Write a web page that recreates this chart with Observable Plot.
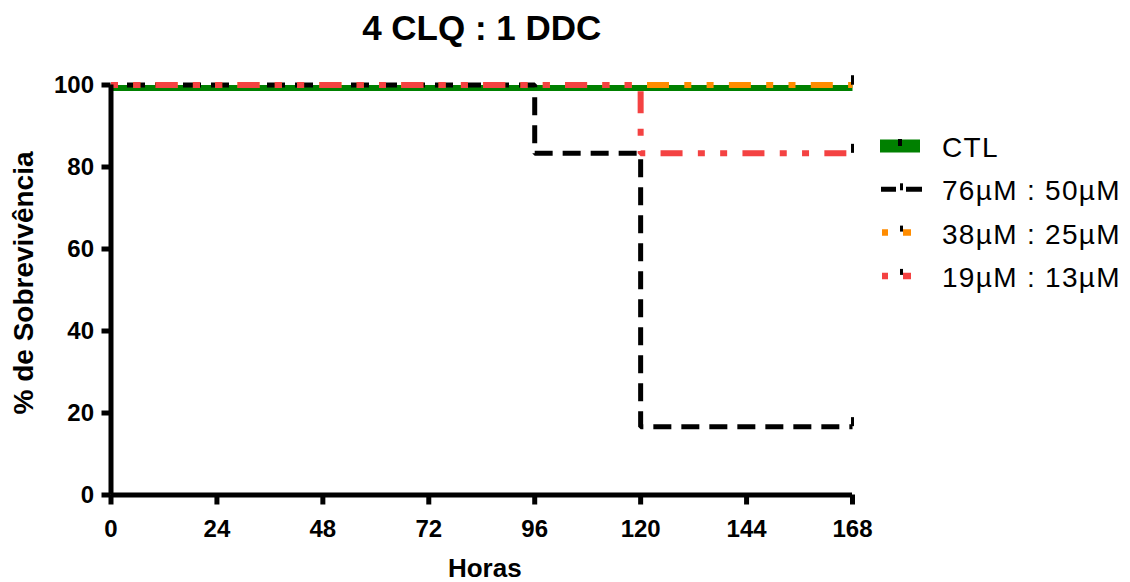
<!DOCTYPE html>
<html>
<head>
<meta charset="utf-8">
<script src="https://cdn.jsdelivr.net/npm/d3@7"></script>
<script src="https://cdn.jsdelivr.net/npm/@observablehq/plot@0.6"></script>
<style>
  body { margin: 0; background: #fff; }
  #chart { position: relative; width: 1130px; height: 582px; font-family: "Liberation Sans", Arial, sans-serif; }
  #chart > svg { position: absolute; left: 0; top: 0; }
</style>
</head>
<body>
<div id="chart"></div>
<script>
// Kaplan–Meier survival, 4 CLQ : 1 DDC
const seriesNames = ["CTL", "76µM : 50µM", "38µM : 25µM", "19µM : 13µM"];
const seriesColors = ["#008000", "#000000", "#ff8c00", "#f44242"];

const ctlHours = [0, 168];
const ctlSurvival = [100, 100];
const highHours = [0, 96, 120, 168];
const highSurvival = [100, 83.33, 16.67, 16.67];
const midHours = [0, 168];
const midSurvival = [100, 100];
const lowHours = [0, 120, 168];
const lowSurvival = [100, 83.33, 83.33];

const xTicks = [0, 24, 48, 72, 96, 120, 144, 168];
const yTicks = [0, 20, 40, 60, 80, 100];

const titleText = "4 CLQ : 1 DDC";
const xLabel = "Horas";
const yLabel = "% de Sobrevivência";

const toRows = (name, hours, surv) => hours.map((h, i) => ({series: name, hour: h, surv: surv[i]}));
const ctl = toRows(seriesNames[0], ctlHours, ctlSurvival);
const high = toRows(seriesNames[1], highHours, highSurvival);
const mid = toRows(seriesNames[2], midHours, midSurvival);
const low = toRows(seriesNames[3], lowHours, lowSurvival);
// censored observations at the end of follow-up
const censored = [ctl, high, mid, low].map(s => s[s.length - 1]);

const dashDot = "7,15.3,7,15.3,22,15.3";
const lineOpts = {x: "hour", y: "surv", curve: "step-after", strokeLinecap: "butt", strokeLinejoin: "miter"};
const font = {fontWeight: "bold"};

const chart = Plot.plot({
  width: 1130,
  height: 582,
  marginLeft: 110.5,
  marginRight: 278,
  marginTop: 84.5,
  marginBottom: 87.5,
  style: {fontFamily: "'Liberation Sans', Arial, sans-serif", color: "#000", background: "transparent"},
  x: {domain: [0, 168]},
  y: {domain: [0, 100]},
  marks: [
    Plot.line(ctl, {...lineOpts, stroke: seriesColors[0], strokeWidth: 6, dy: 3}),
    Plot.line(high, {...lineOpts, stroke: seriesColors[1], strokeWidth: 5, strokeDasharray: "18,10", strokeDashoffset: 12}),
    Plot.line(mid, {...lineOpts, stroke: seriesColors[2], strokeWidth: 6, strokeDasharray: dashDot}),
    Plot.line(low, {...lineOpts, stroke: seriesColors[3], strokeWidth: 6, strokeDasharray: dashDot}),
    Plot.ruleX(censored, {x: "hour", y1: "surv", y2: d => d.surv + 2.2, stroke: "#000", strokeWidth: 3}),
    Plot.ruleX([0], {y1: 0, y2: 100, strokeWidth: 5}),
    Plot.ruleY([0], {x1: 0, x2: 168, strokeWidth: 5}),
    Plot.axisX({ticks: xTicks, tickSize: 10, tickPadding: 15, strokeWidth: 5, fontSize: 24, ...font, label: null, tickFormat: d => String(d)}),
    Plot.axisY({ticks: yTicks, tickSize: 9, tickPadding: 8, strokeWidth: 5, fontSize: 24, ...font, label: null, tickFormat: d => String(d)}),
    Plot.text([titleText], {text: d => d, frameAnchor: "top", lineAnchor: "middle", textAnchor: "middle", dy: -56, fontSize: 35, ...font}),
    Plot.text([xLabel], {text: d => d, frameAnchor: "bottom", lineAnchor: "middle", textAnchor: "middle", dx: 3, dy: 74, fontSize: 26, ...font}),
    Plot.text([yLabel], {text: d => d, frameAnchor: "left", lineAnchor: "middle", textAnchor: "middle", rotate: -90, dx: -86.5, dy: -7, fontSize: 28, ...font})
  ]
});
document.getElementById("chart").appendChild(chart);

// Legend to the right of the plot
const legend = d3.select("#chart").append("svg")
  .attr("width", 1130).attr("height", 582)
  .style("pointer-events", "none");
seriesNames.forEach((name, i) => {
  const cy = 146 + i * 43.3;
  const g = legend.append("g");
  const color = seriesColors[i];
  if (i === 0) {
    g.append("rect").attr("x", 880).attr("y", cy - 6.5).attr("width", 40).attr("height", 13).attr("fill", color);
    g.append("line").attr("x1", 900).attr("x2", 900).attr("y1", cy - 7).attr("y2", cy).attr("stroke", "#000").attr("stroke-width", 4);
  } else if (i === 1) {
    g.append("line").attr("x1", 881).attr("x2", 922).attr("y1", cy).attr("y2", cy)
      .attr("stroke", color).attr("stroke-width", 5).attr("stroke-dasharray", "15,10,16");
    g.append("line").attr("x1", 901.5).attr("x2", 901.5).attr("y1", cy - 6).attr("y2", cy + 1).attr("stroke", "#000").attr("stroke-width", 3);
  } else {
    g.append("line").attr("x1", 882).attr("x2", 911).attr("y1", cy).attr("y2", cy)
      .attr("stroke", color).attr("stroke-width", 6.5).attr("stroke-dasharray", "6,15,8");
    g.append("line").attr("x1", 901.5).attr("x2", 901.5).attr("y1", cy - 7).attr("y2", cy - 1).attr("stroke", "#000").attr("stroke-width", 3);
  }
  g.append("text").attr("x", 942).attr("y", cy + 11)
    .attr("font-family", "'Liberation Sans', Arial, sans-serif").attr("font-size", 28)
    .attr("letter-spacing", 1.3).attr("fill", "#000")
    .text(name);
});
</script>
</body>
</html>
